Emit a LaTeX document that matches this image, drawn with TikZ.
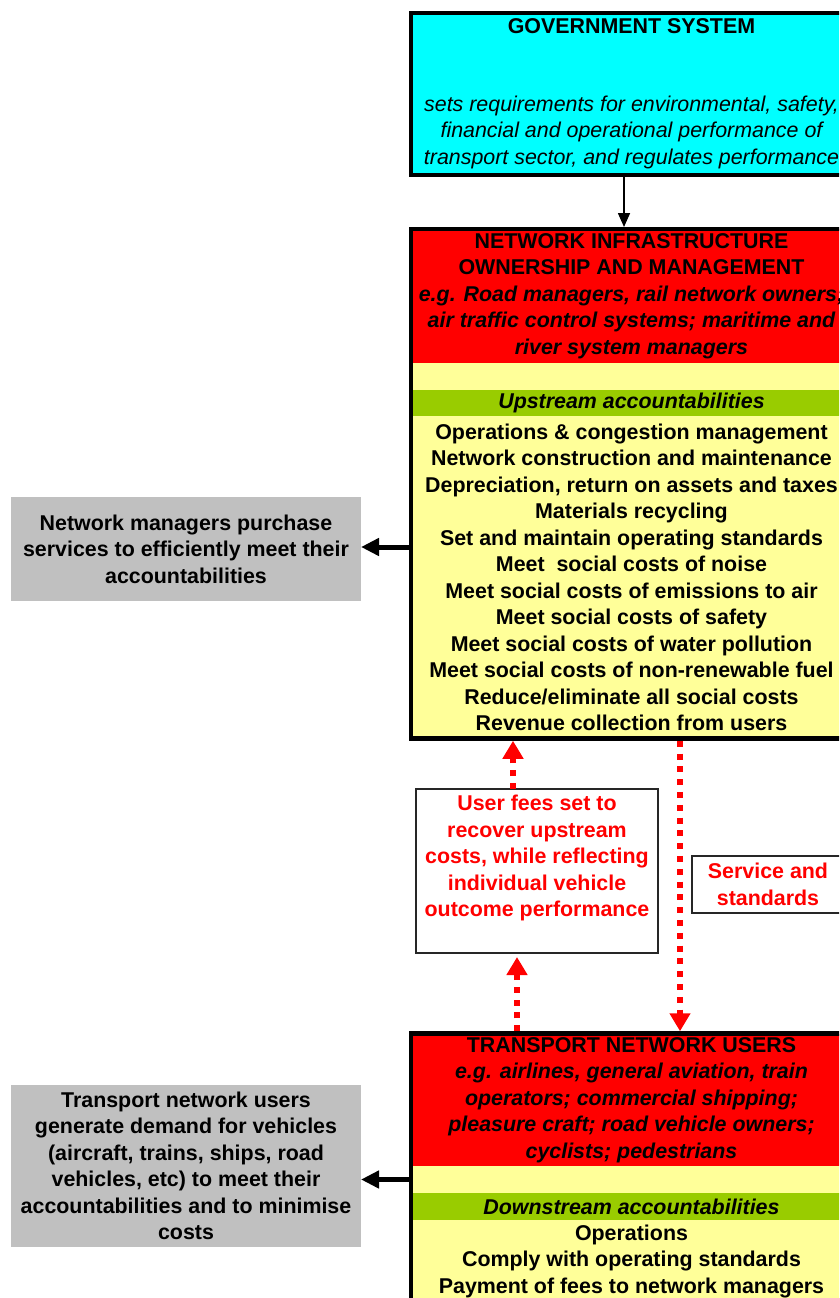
\documentclass[tikz,border=0pt]{standalone}
\usepackage{fontspec}
\setmainfont{Liberation Sans}
\usetikzlibrary{arrows.meta, positioning, calc, fit}
\definecolor{govcyan}{HTML}{00FFFF}
\definecolor{hdred}{HTML}{FF0000}
\definecolor{paleyel}{HTML}{FFFF99}
\definecolor{bandgreen}{HTML}{99CC00}
\definecolor{sidegray}{HTML}{C0C0C0}

\begin{document}
\begin{tikzpicture}[
  x=1pt, y=-1pt,
  every node/.style={font=\fontsize{21.4}{26.5}\selectfont\bfseries,
                     align=center, inner sep=0pt, outer sep=0pt},
  % Node styles
  govbox/.style  = {rectangle, draw=black, line width=4.5pt, fill=govcyan,
                    minimum width=441pt, minimum height=162pt},
  band/.style    = {rectangle, minimum width=441pt},
  hd/.style      = {band, fill=hdred},
  gap/.style     = {band, fill=paleyel},
  acc/.style     = {band, fill=bandgreen,
                    font=\fontsize{21.4}{26.5}\selectfont\bfseries\itshape},
  lst/.style     = {band, fill=paleyel},
  frame/.style   = {rectangle, draw=black, line width=4.5pt, inner sep=0pt},
  side/.style    = {rectangle, fill=sidegray, minimum width=350pt},
  note/.style    = {rectangle, draw=black!85, line width=1.5pt},
  % Arrow styles
  regflow/.style = {-{Triangle[width=12pt,length=14pt]}, line width=1.6pt,
                    shorten >=2pt},
  pushto/.style  = {-{Triangle[width=17pt,length=18pt]}, line width=5pt},
  feeflow/.style = {-{Triangle[width=20pt,length=18pt]}, line width=6pt,
                    hdred, dash pattern=on 6pt off 6.8pt}
]
\path[use as bounding box] (0,0) rectangle (839,1298);
\clip (0,0) rectangle (839,1298);

% =========================== GOVERNMENT ===========================
\node[govbox] (Gov) at (631.5,94) {};
\node (GovTitle) at (631.5,26.5) {GOVERNMENT SYSTEM};
\node[font=\fontsize{21.4}{26.5}\selectfont\itshape] (GovBody) at (631.5,132)
  {sets requirements for environmental, safety,\\
   financial and operational performance of\\
   transport sector, and regulates performance};

% =========================== NETWORK MANAGERS ===========================
\node[hd, minimum height=134pt] (NetHd) at (631.5,296)
  {NETWORK INFRASTRUCTURE\\
   OWNERSHIP AND MANAGEMENT\\
   {\itshape e.g. Road managers, rail network owners;}\\
   {\itshape air traffic control systems; maritime and}\\
   {\itshape river system managers}};
\node[gap, minimum height=27pt, below=0pt of NetHd] (NetGap) {};
\node[acc, minimum height=26pt, below=0pt of NetGap] (NetAcc) {Upstream accountabilities};
\node[lst, minimum height=322.5pt, below=0pt of NetAcc] (NetList)
  {Operations \& congestion management\\
   Network construction and maintenance\\
   Depreciation, return on assets and taxes\\
   Materials recycling\\
   Set and maintain operating standards\\
   Meet\ \ social costs of noise\\
   Meet social costs of emissions to air\\
   Meet social costs of safety\\
   Meet social costs of water pollution\\
   Meet social costs of non-renewable fuel\\
   Reduce/eliminate all social costs\\
   Revenue collection from users};
\node[frame, fit=(NetHd)(NetList)] (Net) {};

% =========================== NETWORK USERS ===========================
\node[hd, minimum height=132.5pt] (UsrHd) at (631.5,1099.75)
  {TRANSPORT NETWORK USERS\\
   {\itshape e.g. airlines, general aviation, train}\\
   {\itshape operators; commercial shipping;}\\
   {\itshape pleasure craft; road vehicle owners;}\\
   {\itshape cyclists; pedestrians}};
\node[gap, minimum height=27pt, below=0pt of UsrHd] (UsrGap) {};
\node[acc, minimum height=27pt, below=0pt of UsrGap] (UsrAcc) {Downstream accountabilities};
\node[lst, minimum height=82pt, below=0pt of UsrAcc] (UsrList)
  {Operations\\
   Comply with operating standards\\
   Payment of fees to network managers};
\coordinate (UsrFoot) at (631.5,1320);
\node[frame, fit=(UsrHd)(UsrList)(UsrFoot)] (Usr) {};

% =========================== SIDE NOTES ===========================
\node[side, minimum height=104pt] (Buy) at (186,549)
  {Network managers purchase\\
   services to efficiently meet their\\
   accountabilities};
\node[side, minimum height=162pt] (Demand) at (186,1166)
  {Transport network users\\
   generate demand for vehicles\\
   (aircraft, trains, ships, road\\
   vehicles, etc) to meet their\\
   accountabilities and to minimise\\
   costs};

\node[note, minimum width=242pt, minimum height=164pt] (Fees) at (537,871) {};
\node[text=hdred, below=6pt of Fees.north] (FeesTxt)
  {User fees set to\\
   recover upstream\\
   costs, while reflecting\\
   individual vehicle\\
   outcome performance};
\node[note, text=hdred, minimum width=152pt, minimum height=57pt] (Svc) at (768,884.5)
  {Service and\\standards};

% =========================== FLOWS ===========================
\draw[regflow] ([xshift=-7.5pt]Gov.south) -- ([xshift=-7.5pt]Net.north);

\draw[pushto] ([yshift=2pt]Buy.east -| Net.west) -- ([yshift=2pt]Buy.east);
\draw[pushto] (UsrGap.west) -- (UsrGap.west -| Demand.east);

\coordinate (FeeUp) at ([xshift=-24pt]Fees.north);
\coordinate (FeeIn) at ([xshift=-20pt]Fees.south);
\coordinate (SvcLine) at ([xshift=-12pt]Svc.west);
\draw[feeflow, shorten >=2.25pt] (FeeUp) -- (FeeUp |- Net.south);
\draw[feeflow, shorten <=2.25pt, shorten >=4pt] (FeeIn |- Usr.north) -- (FeeIn);
\draw[feeflow, shorten <=2.25pt, shorten >=2.25pt] (Net.south -| SvcLine) -- (Usr.north -| SvcLine);

\end{tikzpicture}
\end{document}
